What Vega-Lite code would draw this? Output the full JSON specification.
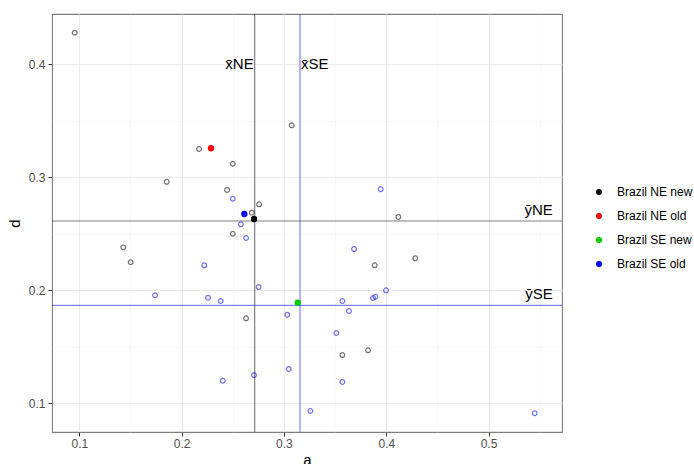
{
  "$schema": "https://vega.github.io/schema/vega-lite/v6.json",
  "width": 510,
  "height": 418,
  "autosize": {"type": "none"},
  "padding": {"left": 52, "top": 14, "right": 132, "bottom": 32},
  "background": "white",
  "config": {
    "font": "Liberation Sans",
    "view": {"stroke": "#7f7f7f", "strokeWidth": 1.1},
    "axis": {
      "gridColor": "#EBEBEB",
      "gridWidth": 1,
      "tickColor": "#333333",
      "tickSize": 4,
      "labelColor": "#4D4D4D",
      "labelFontSize": 12,
      "labelFont": "Liberation Sans",
      "titleFont": "Liberation Sans",
      "titleFontSize": 15,
      "titleFontWeight": "normal",
      "titleColor": "black",
      "domain": false
    }
  },
  "resolve": {"axis": {"x": "independent", "y": "independent"}},
  "datasets": {
    "open": [
      {"a": 0.0955, "d": 0.428, "region": "NE"},
      {"a": 0.217, "d": 0.325, "region": "NE"},
      {"a": 0.25, "d": 0.312, "region": "NE"},
      {"a": 0.3076, "d": 0.346, "region": "NE"},
      {"a": 0.1854, "d": 0.296, "region": "NE"},
      {"a": 0.2444, "d": 0.2888, "region": "NE"},
      {"a": 0.2757, "d": 0.2761, "region": "NE"},
      {"a": 0.2685, "d": 0.2687, "region": "NE"},
      {"a": 0.25, "d": 0.25, "region": "NE"},
      {"a": 0.143, "d": 0.238, "region": "NE"},
      {"a": 0.1502, "d": 0.2248, "region": "NE"},
      {"a": 0.263, "d": 0.1752, "region": "NE"},
      {"a": 0.4284, "d": 0.2283, "region": "NE"},
      {"a": 0.3887, "d": 0.2221, "region": "NE"},
      {"a": 0.3822, "d": 0.1469, "region": "NE"},
      {"a": 0.3571, "d": 0.1427, "region": "NE"},
      {"a": 0.4118, "d": 0.2649, "region": "NE"},
      {"a": 0.25, "d": 0.281, "region": "SE"},
      {"a": 0.258, "d": 0.2584, "region": "SE"},
      {"a": 0.263, "d": 0.2463, "region": "SE"},
      {"a": 0.2222, "d": 0.2221, "region": "SE"},
      {"a": 0.174, "d": 0.1956, "region": "SE"},
      {"a": 0.2258, "d": 0.1935, "region": "SE"},
      {"a": 0.2382, "d": 0.1905, "region": "SE"},
      {"a": 0.2753, "d": 0.2029, "region": "SE"},
      {"a": 0.3033, "d": 0.1784, "region": "SE"},
      {"a": 0.3047, "d": 0.1304, "region": "SE"},
      {"a": 0.2708, "d": 0.125, "region": "SE"},
      {"a": 0.2402, "d": 0.12, "region": "SE"},
      {"a": 0.3685, "d": 0.2365, "region": "SE"},
      {"a": 0.3998, "d": 0.2, "region": "SE"},
      {"a": 0.3871, "d": 0.1932, "region": "SE"},
      {"a": 0.3894, "d": 0.1943, "region": "SE"},
      {"a": 0.3571, "d": 0.1905, "region": "SE"},
      {"a": 0.3636, "d": 0.1817, "region": "SE"},
      {"a": 0.3512, "d": 0.1622, "region": "SE"},
      {"a": 0.3571, "d": 0.1189, "region": "SE"},
      {"a": 0.3258, "d": 0.0932, "region": "SE"},
      {"a": 0.5451, "d": 0.0912, "region": "SE"},
      {"a": 0.3946, "d": 0.2894, "region": "SE"}
    ],
    "filled": [
      {"a": 0.2708, "d": 0.2631, "series": "Brazil NE new"},
      {"a": 0.2287, "d": 0.3257, "series": "Brazil NE old"},
      {"a": 0.3135, "d": 0.189, "series": "Brazil SE new"},
      {"a": 0.2613, "d": 0.2675, "series": "Brazil SE old"}
    ],
    "vlines": [
      {"a": 0.2714, "region": "NE", "label": "x̄NE", "ylab": 0.4},
      {"a": 0.3157, "region": "SE", "label": "x̄SE", "ylab": 0.4}
    ],
    "hlines": [
      {"d": 0.2613, "region": "NE", "label": "ȳNE", "xlab": 0.5628},
      {"d": 0.1867, "region": "SE", "label": "ȳSE", "xlab": 0.5628}
    ],
    "minor": [
      {"a": 0.15, "d": 0.15}
    ]
  },
  "layer": [
    {
      "data": {"name": "minor"},
      "mark": {"type": "point", "opacity": 0},
      "encoding": {
        "x": {"field": "a", "type": "quantitative", "scale": {"domain": [0.0733, 0.5718], "nice": false, "zero": false},
              "axis": {"orient": "top", "values": [0.15, 0.25, 0.35, 0.45, 0.55], "labels": false, "ticks": false, "title": null, "grid": true, "gridWidth": 0.5, "gridColor": "#F0F0F0"}},
        "y": {"field": "d", "type": "quantitative", "scale": {"domain": [0.0746, 0.4445], "nice": false, "zero": false},
              "axis": {"orient": "right", "values": [0.15, 0.25, 0.35], "labels": false, "ticks": false, "title": null, "grid": true, "gridWidth": 0.5, "gridColor": "#F0F0F0"}}
      }
    },
    {
      "data": {"name": "open"},
      "mark": {"type": "point", "shape": "circle", "filled": false, "size": 22, "strokeWidth": 1.2},
      "encoding": {
        "x": {"field": "a", "type": "quantitative", "scale": {"domain": [0.0733, 0.5718], "nice": false, "zero": false},
              "axis": {"orient": "bottom", "values": [0.1, 0.2, 0.3, 0.4, 0.5], "title": "a", "grid": true, "labelPadding": 2, "titlePadding": 3, "format": ".1f"}},
        "y": {"field": "d", "type": "quantitative", "scale": {"domain": [0.0746, 0.4445], "nice": false, "zero": false},
              "axis": {"orient": "left", "values": [0.1, 0.2, 0.3, 0.4], "title": "d", "grid": true, "labelPadding": 3, "titlePadding": 6, "format": ".1f"}},
        "stroke": {"field": "region", "type": "nominal", "scale": {"domain": ["NE", "SE"], "range": ["#222222", "#2020FF"]}, "legend": null},
        "strokeOpacity": {"value": 0.9}
      }
    },
    {
      "data": {"name": "vlines"},
      "mark": {"type": "rule", "strokeWidth": 1.2, "opacity": 0.5},
      "encoding": {
        "x": {"field": "a", "type": "quantitative", "axis": null},
        "color": {"field": "region", "type": "nominal", "scale": {"domain": ["NE", "SE"], "range": ["#000000", "#0000FF"]}, "legend": null}
      }
    },
    {
      "data": {"name": "hlines"},
      "mark": {"type": "rule", "strokeWidth": 1.2, "opacity": 0.5},
      "encoding": {
        "y": {"field": "d", "type": "quantitative", "axis": null},
        "color": {"field": "region", "type": "nominal", "scale": {"domain": ["NE", "SE"], "range": ["#000000", "#0000FF"]}, "legend": null}
      }
    },
    {
      "data": {"name": "filled"},
      "mark": {"type": "point", "shape": "circle", "filled": true, "size": 40, "opacity": 1},
      "encoding": {
        "x": {"field": "a", "type": "quantitative", "axis": null},
        "y": {"field": "d", "type": "quantitative", "axis": null},
        "fill": {"field": "series", "type": "nominal",
                  "scale": {"domain": ["Brazil NE new", "Brazil NE old", "Brazil SE new", "Brazil SE old"], "range": ["#000000", "#FF0000", "#00CD00", "#0000FF"]},
                  "legend": {"title": null, "orient": "none", "legendX": 541, "legendY": 172, "labelFontSize": 12, "labelColor": "black", "symbolSize": 36, "symbolType": "circle", "symbolStrokeWidth": 0, "labelOffset": 12, "rowPadding": 12, "labelFont": "Liberation Sans", "labelLimit": 200}}
      }
    },
    {
      "data": {"name": "vlines"},
      "transform": [{"filter": "datum.region == 'NE'"}],
      "mark": {"type": "text", "fontSize": 15, "baseline": "middle", "align": "right", "dx": -1, "font": "Liberation Sans"},
      "encoding": {
        "x": {"field": "a", "type": "quantitative", "axis": null},
        "y": {"field": "ylab", "type": "quantitative", "axis": null},
        "text": {"field": "label"}
      }
    },
    {
      "data": {"name": "vlines"},
      "transform": [{"filter": "datum.region == 'SE'"}],
      "mark": {"type": "text", "fontSize": 15, "baseline": "middle", "align": "left", "dx": 1, "font": "Liberation Sans"},
      "encoding": {
        "x": {"field": "a", "type": "quantitative", "axis": null},
        "y": {"field": "ylab", "type": "quantitative", "axis": null},
        "text": {"field": "label"}
      }
    },
    {
      "data": {"name": "hlines"},
      "mark": {"type": "text", "fontSize": 15, "baseline": "bottom", "align": "right", "dy": -3, "font": "Liberation Sans"},
      "encoding": {
        "x": {"field": "xlab", "type": "quantitative", "axis": null},
        "y": {"field": "d", "type": "quantitative", "axis": null},
        "text": {"field": "label"}
      }
    }
  ]
}
